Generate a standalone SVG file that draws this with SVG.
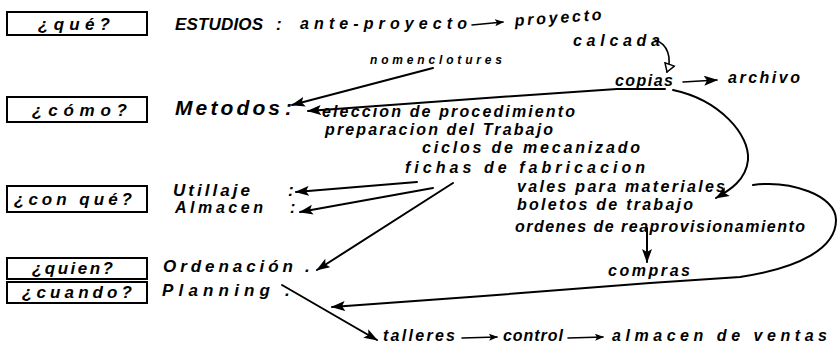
<svg xmlns="http://www.w3.org/2000/svg" width="839" height="352" viewBox="0 0 839 352">
<style>
  text { font-family: "Liberation Sans", "DejaVu Sans", sans-serif; font-style: italic; font-weight: bold; fill: #000; }
  .q { font-size: 17px; }
  .t { font-size: 16px; }
  .s { font-size: 12px; }
  .b { font-size: 21px; }
  .box { fill: #fff; stroke: #000; stroke-width: 2; }
  .c { fill: none; stroke: #000; stroke-width: 2; stroke-linecap: round; }
  .c1 { fill: none; stroke: #000; stroke-width: 1.6; stroke-linecap: round; }
</style>
<defs>
  <marker id="ah" markerWidth="14" markerHeight="10" refX="13" refY="5" orient="auto" markerUnits="userSpaceOnUse">
    <path d="M0,0 L14,5 L0,10 L3,5 Z" fill="#000"/>
  </marker>
  <marker id="ahs" markerWidth="9" markerHeight="7" refX="8" refY="3.5" orient="auto" markerUnits="userSpaceOnUse">
    <path d="M0,0 L9,3.5 L0,7 L2,3.5 Z" fill="#000"/>
  </marker>
  <marker id="aho" markerWidth="10" markerHeight="12" refX="9" refY="6" orient="auto" markerUnits="userSpaceOnUse">
    <path d="M1,1 L9,6 L1,11 Z" fill="#fff" stroke="#000" stroke-width="1.5"/>
  </marker>
</defs>
<rect width="839" height="352" fill="#fff"/>

<g id="q-que"><rect class="box" x="7" y="12" width="140" height="23"/><text class="q" x="38" y="30" textLength="72">¿qué?</text></g>
<g id="q-como"><rect class="box" x="7" y="97" width="140" height="25"/><text class="q" x="32" y="116" textLength="95">¿cómo?</text></g>
<g id="q-conque"><rect class="box" x="7" y="186" width="140" height="26"/><text class="q" x="14" y="205" textLength="118">¿con qué?</text></g>
<g id="q-quien"><rect class="box" x="7" y="258" width="140" height="21"/><text class="q" x="32" y="274" textLength="81">¿quien?</text></g>
<g id="q-cuando"><rect class="box" x="7" y="282" width="140" height="21"/><text class="q" x="22" y="298" textLength="110">¿cuando?</text></g>

<g id="estudios">
  <text class="q" x="175" y="30" textLength="88">ESTUDIOS</text>
  <text class="q" x="276" y="30">:</text>
  <text class="t" x="300" y="29" textLength="167">ante-proyecto</text>
  <text class="t" x="515" y="26" textLength="87" transform="rotate(-4 515 26)">proyecto</text>
</g>
<g id="calcada"><text class="t" x="573" y="46" textLength="87">calcada</text></g>
<g id="nomenclotures"><text class="s" x="370" y="64" textLength="132">nomenclotures</text></g>
<g id="copias"><text class="t" x="615" y="86" textLength="58">copias</text></g>
<g id="archivo"><text class="t" x="728" y="83" textLength="72">archivo</text></g>
<g id="metodos">
  <text class="b" x="175" y="115" textLength="105">Metodos</text>
  <text class="b" x="285" y="115">:</text>
</g>
<g id="metodos-list">
  <text class="t" x="322" y="117" textLength="253">eleccion de procedimiento</text>
  <text class="t" x="325" y="135" textLength="228">preparacion del Trabajo</text>
  <text class="t" x="422" y="153" textLength="218">ciclos de mecanizado</text>
  <text class="t" x="405" y="173" textLength="240">fichas de fabricacion</text>
</g>
<g id="utillaje"><text class="q" x="173" y="196" textLength="77">Utillaje</text><text class="q" x="288" y="196">:</text></g>
<g id="almacen"><text class="t" x="175" y="213" textLength="88">Almacen</text><text class="t" x="290" y="213">:</text></g>
<g id="vales-list">
  <text class="t" x="517" y="192" textLength="208">vales para materiales</text>
  <text class="t" x="517" y="210" textLength="176">boletos de trabajo</text>
  <text class="t" x="515" y="232" textLength="290">ordenes de reaprovisionamiento</text>
</g>
<g id="compras"><text class="t" x="608" y="276" textLength="82">compras</text></g>
<g id="ordenacion"><text class="q" x="163" y="272" textLength="130">Ordenación</text><text class="q" x="305" y="272">.</text></g>
<g id="planning"><text class="q" x="162" y="296" textLength="108">Planning</text><text class="q" x="285" y="296">.</text></g>
<g id="talleres"><text class="t" x="383" y="341" textLength="72">talleres</text></g>
<g id="control"><text class="t" x="503" y="341" textLength="60">control</text></g>
<g id="ventas"><text class="t" x="612" y="341" textLength="215">almacen de ventas</text></g>

<g id="connectors">
  <line class="c1" x1="472" y1="25" x2="503" y2="22" marker-end="url(#ahs)"/>
  <path class="c1" d="M655,40 C668,44 672,58 667,72" marker-end="url(#aho)"/>
  <line class="c1" x1="683" y1="82" x2="717" y2="80" marker-end="url(#ah)"/>
  <line class="c" x1="433" y1="68" x2="292" y2="105" marker-end="url(#ah)"/>
  <path class="c" d="M665,89 L617,89 L500,97 L308,111" marker-end="url(#ah)"/>
  <path class="c" d="M673,90 C720,100 750,135 748,160 C746,180 730,190 716,198" marker-end="url(#ah)"/>
  <path class="c" d="M417,182 L296,192" marker-end="url(#ah)"/>
  <path class="c" d="M433,188 L300,212" marker-end="url(#ah)"/>
  <path class="c" d="M453,183 L317,270" marker-end="url(#ah)"/>
  <path class="c" d="M753,185 C790,180 836,195 836,220 C836,248 800,268 740,277 L650,283 L470,297 L332,307" marker-end="url(#ah)"/>
  <line class="c" x1="647" y1="228" x2="647" y2="262" marker-end="url(#ah)"/>
  <line class="c" x1="282" y1="285" x2="377" y2="340" marker-end="url(#ah)"/>
  <line class="c1" x1="462" y1="338" x2="497" y2="337" marker-end="url(#ahs)"/>
  <line class="c1" x1="568" y1="338" x2="603" y2="337" marker-end="url(#ahs)"/>
</g>
</svg>
